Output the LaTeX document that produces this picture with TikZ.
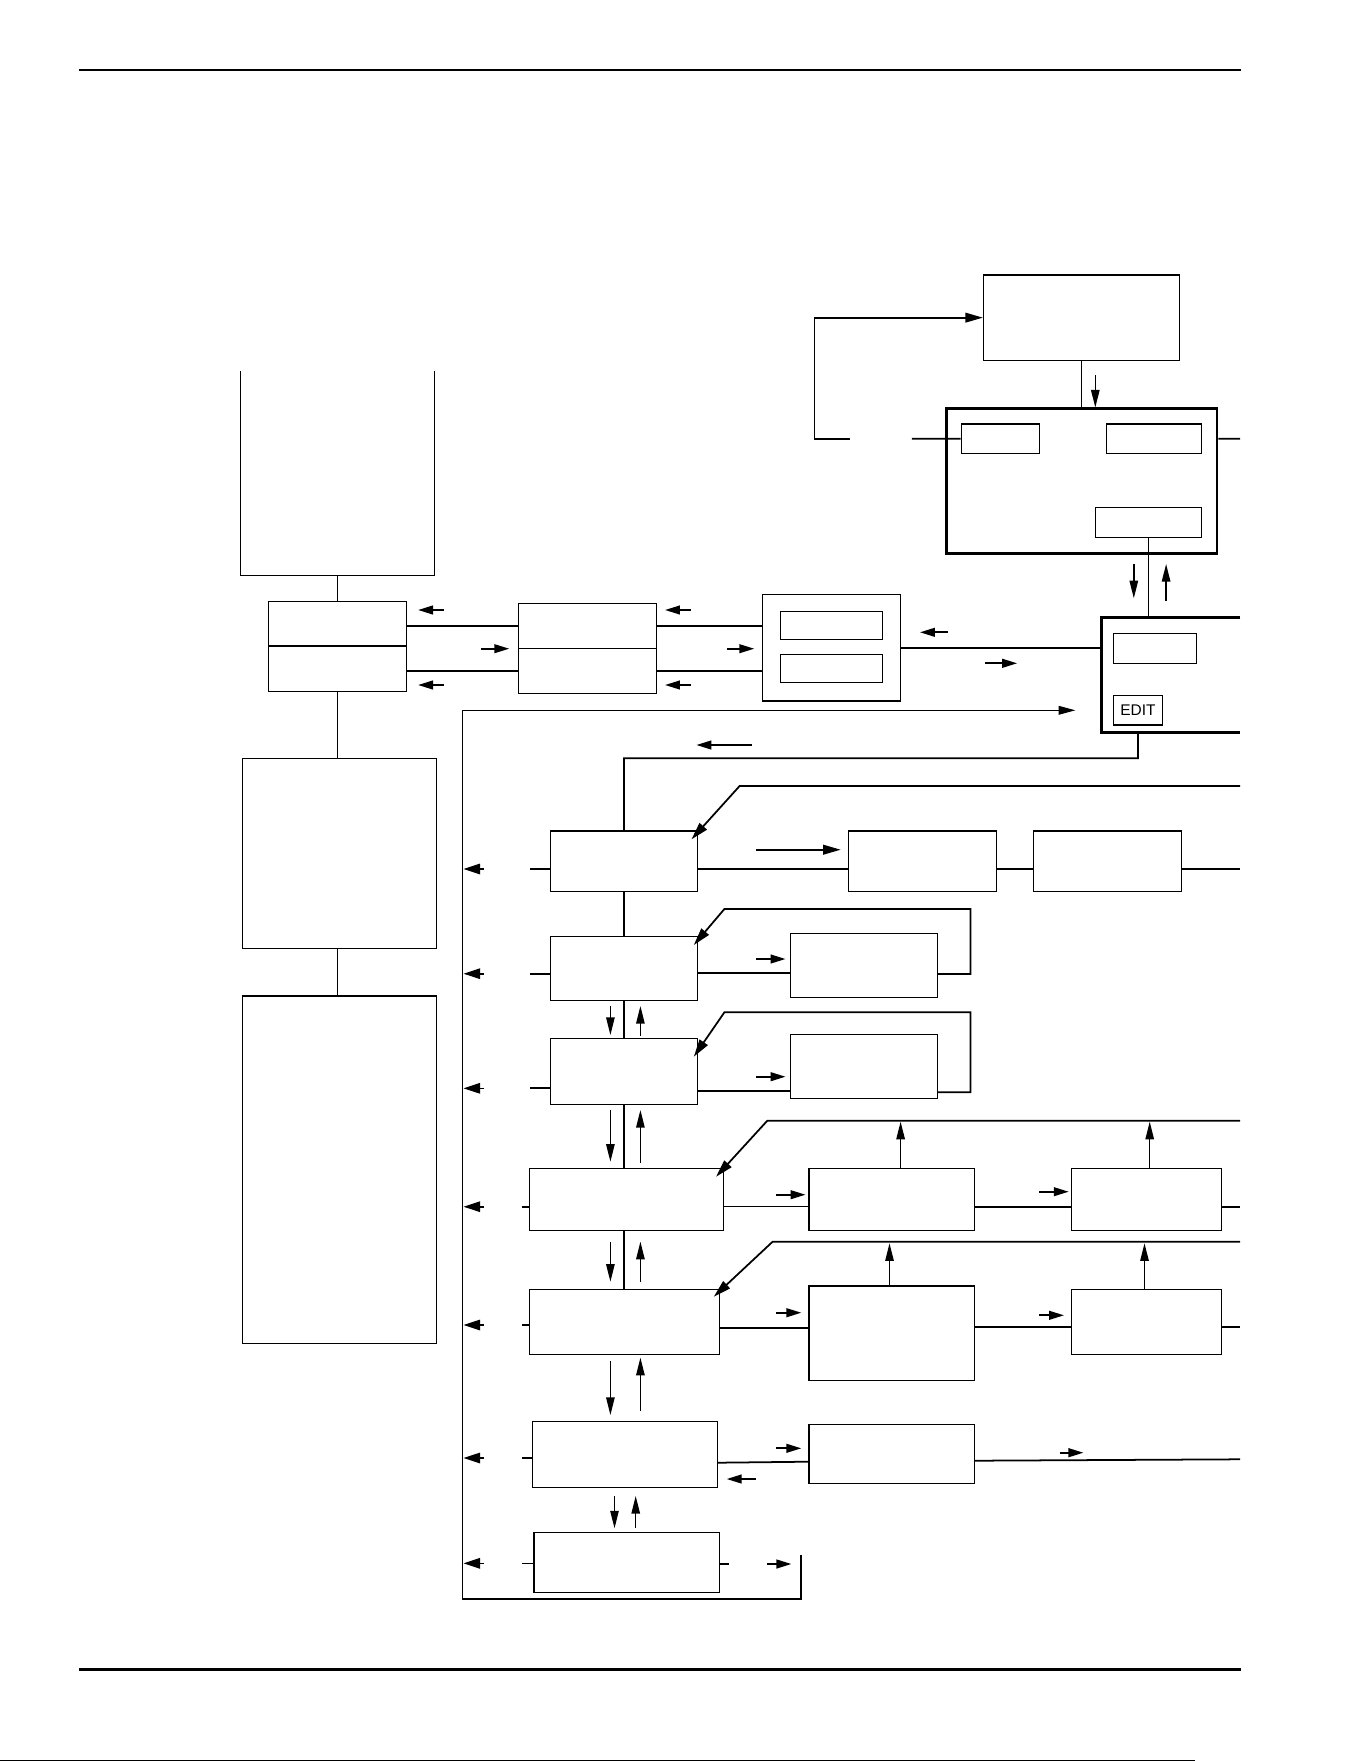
\documentclass[tikz,border=0pt]{standalone}
\usepackage{fontspec}
\setsansfont{Liberation Sans}
\usetikzlibrary{arrows.meta,fit}
\begin{document}
\begin{tikzpicture}[x=0.02cm,y=-0.02cm,
  bx/.style={draw, line width=0.6pt, inner sep=0pt},
  frame/.style={draw=none, inner sep=0pt},
  thickbox/.style={line width=1.6pt},
  thn/.style={line width=0.6pt},
  thk/.style={line width=1pt},
  arr/.style={line width=1pt, -{Triangle[length=8.5pt,width=5pt]}},
  barr/.style={line width=0.9pt, -{Triangle[length=9.5pt,width=6pt]}},
  varr/.style={line width=0.8pt, -{Triangle[length=10pt,width=4.8pt]}},
  larr/.style={line width=1pt, -{Triangle[length=10pt,width=5.5pt]}},
  line cap=butt, line join=miter]

\useasboundingbox (0,0) rectangle (1361,1761);
\fill[white] (0,0) rectangle (1361,1761);

% page rules
\draw[line width=1.2pt] (79,70) -- (1241,70);
\draw[line width=1.2pt] (79,1669.5) -- (1241,1669.5);
\draw[line width=0.5pt] (0,1760) -- (1195,1760);

% ---------- top right area ----------
\node[bx, fit={(983.4,275)(1179.4,360.3)}] (T) {};
\node[bx, thickbox, fit={(946.6,408.3)(1217,553.3)}] (BIG) {};
\node[bx, fit={(961.2,424)(1039.4,453.3)}] (I1) {};
\node[bx, fit={(1106.4,424)(1201.3,453.3)}] (I2) {};
\node[bx, fit={(1095.3,507.3)(1201.3,537.3)}] (I3) {};

\node[frame, fit={(1101.6,617.7)(1240,732.3)}] (E) {};
\draw[thickbox] (E.north east) -- (E.north west) -- (E.south west) -- (E.south east);
\node[bx, fit={(1113.5,633.3)(1196.5,663.3)}] (E1) {};
\node[bx, minimum width=0.978cm, minimum height=0.594cm, anchor=center,
      font=\sffamily\fontsize{8.8}{10}\selectfont] (EDIT) at (1137.95,710.15) {EDIT};

\draw[thn] (T.south) -- (T.south |- BIG.north);
\draw[varr] (1095.3,375) -- (1095.3,407.5);

\coordinate (lpA) at (911.9,438.7);
\coordinate (lpB) at (849.7,438.7);
\coordinate (lpC) at (814.5,438.7);
\draw[thk] (I1.west) -- (lpA);
\draw[larr] (lpB) -- (lpC) -- (lpC |- T.west) -- (T.west);
\coordinate (bigR) at (1240,438.7);
\draw[thk] (BIG.east |- I2.east) -- (bigR);

\draw[thn] (I3.south) -- (I3.south |- E.north);
\draw[varr] (1133.8,564) -- (1133.8,598.3);
\draw[varr] (1166.1,600.7) -- (1166.1,564);

% ---------- left column ----------
\node[frame, fit={(240.6,371.7)(434.6,575.3)}] (TB) {};
\draw[thn] (TB.north west) -- (TB.south west) -- (TB.south east) -- (TB.north east);
\node[bx, fit={(268.5,601.3)(406.7,646)}] (S1t) {};
\node[bx, fit={(268.5,646)(406.7,691.3)}] (S1b) {};
\node[bx, fit={(242.3,758.3)(436.7,948.3)}] (L3) {};
\node[bx, fit={(242.3,996)(436.7,1343.3)}] (L4) {};
\draw[thk] (TB.south) -- (S1t.north);
\draw[thk] (S1b.south) -- (S1b.south |- L3.north);
\draw[thk] (S1b.south |- L3.south) -- (S1b.south |- L4.north);

% ---------- split box 2 and framed box ----------
\node[bx, fit={(518.4,603.3)(656.6,648.3)}] (S2t) {};
\node[bx, fit={(518.4,648.3)(656.6,693.3)}] (S2b) {};
\node[bx, fit={(762.6,594.3)(900.4,701)}] (F) {};
\node[bx, fit={(780.6,611.7)(882.3,639.3)}] (F1) {};
\node[bx, fit={(780.6,654.3)(882.3,682.3)}] (F2) {};

\draw[thk] (S1t.east |- S2t.west) -- (S2t.west);
\draw[thk] (S1b.east |- S2b.west) -- (S2b.west);
\draw[thk] (S2t.east) -- (F.west |- S2t.east);
\draw[thk] (S2b.east) -- (F.west |- S2b.east);
\draw[thk] (F.east) -- (E.west |- F.east);

\draw[arr] (443.8,610) -- (418.1,610);
\draw[arr] (481.3,648.7) -- (509.2,648.7);
\draw[arr] (443.8,685) -- (418.1,685);
\draw[arr] (690.6,610) -- (665,610);
\draw[arr] (727.4,648.7) -- (754.2,648.7);
\draw[arr] (690.6,685) -- (665,685);
\draw[arr] (947.5,632.3) -- (920,632.3);
\draw[arr] (984.9,663.3) -- (1017.1,663.3);

% ---------- main column boxes ----------
\node[bx, fit={(550.5,831)(697.3,891.3)}] (A1) {};
\node[bx, fit={(550.5,936.3)(697.3,1000.3)}] (A2) {};
\node[bx, fit={(550.5,1038.3)(697.3,1104.3)}] (A3) {};
\node[bx, fit={(529.3,1168.3)(723.8,1230.3)}] (A4) {};
\node[bx, fit={(529.3,1289.3)(719.7,1354.3)}] (A5) {};
\node[bx, fit={(532.2,1421.3)(717.3,1487.3)}] (A6) {};
\node[bx, fit={(534,1532.3)(719.7,1592.3)}] (A7) {};

\node[bx, fit={(848.3,831)(996.4,891.3)}] (B1) {};
\node[bx, fit={(1033.4,831)(1181.5,891.3)}] (C1) {};
\node[bx, fit={(790.8,933.3)(937.6,997.3)}] (B2) {};
\node[bx, fit={(790.8,1034.3)(937.6,1098.3)}] (B3) {};
\node[bx, fit={(809,1168.3)(974.7,1230.3)}] (B4) {};
\node[bx, fit={(1071.6,1168.3)(1221.4,1230.3)}] (C4) {};
\node[bx, fit={(809,1286)(974.7,1380.3)}] (B5) {};
\node[bx, fit={(1071.6,1289.3)(1221.4,1354.3)}] (C5) {};
\node[bx, fit={(809,1424.3)(974.7,1483.3)}] (B6) {};

% EDIT box down to the main column
\coordinate (eturn) at (1137.9,758.3);
\draw[thk] (EDIT.south |- E.south) -- (eturn) -| (A1.north);
\draw[arr] (751.9,745) -- (696.4,745);

% bus on the left
\coordinate (busTL) at (462.3,710.3);
\coordinate (busBL) at (462.3,1599);
\coordinate (busBR) at (800.8,1599);
\coordinate (busRT) at (800.8,1555);
\coordinate (busEnd) at (1075.3,710.3);
\draw[thk] (busRT) -- (busBR) -- (busBL);
\draw[thn, -{Triangle[length=9.5pt,width=5pt]}] (busBL) -- (busTL) -- (busEnd);

\foreach \yy in {869,973.7,1088.3,1206.7,1325,1458,1563.3}
  \draw[barr] (484.1,\yy) -- (463.5,\yy);

% spine
\draw[thk] (A1.south) -- (A2.north);
\draw[thk] (A2.south) -- (A3.north);
\draw[thk] (A3.south) -- (A3.south |- A4.north);
\draw[thk] (A3.south |- A4.south) -- (A3.south |- A5.north);

\draw[varr] (610.4,1006) -- (610.4,1035);
\draw[varr] (640.4,1035.7) -- (640.4,1006);
\draw[varr] (610.4,1110) -- (610.4,1161.7);
\draw[varr] (640.4,1162.7) -- (640.4,1110);
\draw[varr] (610.4,1241.7) -- (610.4,1281.7);
\draw[varr] (640.4,1282.3) -- (640.4,1241.7);
\draw[varr] (610.4,1361) -- (610.4,1415);
\draw[varr] (640.4,1410.7) -- (640.4,1357.7);
\draw[varr] (614.5,1496) -- (614.5,1528.3);
\draw[varr] (635.7,1527.7) -- (635.7,1496);

% row 1
\draw[thn] (529.9,869) -- (A1.west |- 0,869);
\draw[thn] (A1.east |- 0,869) -- (B1.west |- 0,869);
\draw[thn] (B1.east |- 0,869) -- (C1.west |- 0,869);
\draw[thn] (C1.east |- 0,869) -- (1240,869);
\draw[larr] (756.1,849.7) -- (840.7,849.7);
\draw[larr] (1240,786) -- (739.6,786) -- (691.5,839.3);

% row 2
\draw[thk] (529.9,973.7) -- (A2.west |- 0,973.7);
\draw[thk] (A2.east |- 0,972.7) -- (B2.west |- 0,972.7);
\draw[arr] (756.1,959) -- (785.5,959);
\draw[larr] (B2.east |- 0,974) -- (970.6,974) -- (970.6,909) -- (724.4,909) -- (693.8,945);

% row 3
\draw[thk] (529.9,1088.3) -- (A3.west |- 0,1088.3);
\draw[thk] (A3.east |- 0,1090.7) -- (B3.west |- 0,1090.7);
\draw[arr] (756.1,1076.7) -- (785.5,1076.7);
\draw[larr] (B3.east |- 0,1092.3) -- (970.6,1092.3) -- (970.6,1012.3) -- (724.4,1012.3) -- (693.8,1056.7);

% row 4
\draw[thk] (522.3,1206.7) -- (A4.west |- 0,1206.7);
\draw[thn] (A4.east |- 0,1206.7) -- (B4.west |- 0,1206.7);
\draw[arr] (776.1,1194.7) -- (805.5,1194.7);
\draw[thk] (B4.east |- 0,1207) -- (C4.west |- 0,1207);
\draw[arr] (1039.3,1191.7) -- (1068.7,1191.7);
\draw[thk] (C4.east |- 0,1207) -- (1240,1207);
\draw[larr] (1240,1120.7) -- (767.3,1120.7) -- (716.1,1176.7);
\draw[varr] (900.6,0 |- B4.north) -- (900.6,1121.7);
\draw[varr] (1149.7,0 |- C4.north) -- (1149.7,1121.7);

% row 5
\draw[thk] (522.3,1325) -- (A5.west |- 0,1325);
\draw[thk] (A5.east |- 0,1327.7) -- (B5.west |- 0,1327.7);
\draw[arr] (776.1,1312.7) -- (801.3,1312.7);
\draw[thk] (B5.east |- 0,1327) -- (C5.west |- 0,1327);
\draw[arr] (1039.3,1315.3) -- (1064,1315.3);
\draw[thk] (C5.east |- 0,1327) -- (1240,1327);
\draw[larr] (1240,1241.7) -- (772.6,1241.7) -- (713.8,1296.7);
\draw[varr] (889.5,0 |- B5.north) -- (889.5,1243.3);
\draw[varr] (1144.5,0 |- C5.north) -- (1144.5,1243.3);

% row 6
\draw[thk] (522.3,1458) -- (A6.west |- 0,1458);
\draw[thk] (A6.east |- 0,1462.7) -- (B6.west |- 0,1461.7);
\draw[arr] (776.1,1448.3) -- (801.3,1448.3);
\draw[arr] (755.5,1479) -- (726.7,1479);
\draw[thk] (B6.east |- 0,1460.7) -- (1240,1459.3);
\draw[arr] (1059.9,1452.7) -- (1083.4,1452.7);

% row 7
\draw[thn] (522.3,1563.3) -- (A7.west |- 0,1563.3);
\draw[thk] (A7.east |- 0,1564) -- (729,1564);
\draw[arr] (767.3,1564) -- (791.4,1564);

\end{tikzpicture}
\end{document}
